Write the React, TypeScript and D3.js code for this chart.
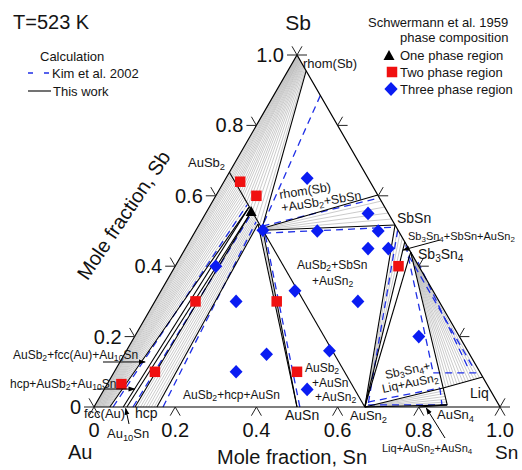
import React from 'react';
import * as d3 from 'd3';

type C = [number, number]; // [xSn, xSb]

// ---------- axis ticks ----------
const tickValues = [0, 0.2, 0.4, 0.6, 0.8, 1.0];
const tickLabels = ['0', '0.2', '0.4', '0.6', '0.8', '1.0'];

// ---------- phase compositions [xSn, xSb] ----------
const AU: C = [0, 0];
const SN: C = [1, 0];
const SB: C = [0, 1];
const AUSB2: C = [0, 0.667];
const AUSB2_N0: C = [0.16, 0.507];
const AUSB2_N1: C = [0.165, 0.502];
const AUSB2_FCC: C = [0.098, 0.567];
const AUSB2_HCP1: C = [0.11, 0.557];
const AUSB2_HCP2: C = [0.144, 0.52];
const RHOM_SB: C = [0.045, 0.955];
const SBSN_1: C = [0.398, 0.602];
const SBSN_2: C = [0.483, 0.517];
const SBSN_3: C = [0.531, 0.469];
const SB3SN4: C = [0.56, 0.44];
const LIQ_1: C = [0.833, 0.054];
const LIQ_2: C = [0.915, 0.085];
const LIQ_3: C = [0.867, 0.006];
const FCC_LIM: C = [0.039, 0];
const AU10SN_1: C = [0.072, 0];
const AU10SN_2: C = [0.081, 0];
const HCP_1: C = [0.101, 0];
const HCP_2: C = [0.155, 0];
const AUSN: C = [0.5, 0];
const AUSN2: C = [0.667, 0];
const AUSN4: C = [0.8, 0];

// ---------- this work: phase boundaries ----------
const thisWorkLines: [C, C][] = [
  [AUSB2, AUSB2_N1],
  [RHOM_SB, AUSB2_N0],
  [AUSB2_N0, SBSN_1],
  [AUSB2_N1, SBSN_2],
  [SBSN_2, AUSN2],
  [SBSN_3, AUSN2],
  [SB3SN4, AUSN2],
  [SB3SN4, LIQ_1],
  [LIQ_1, LIQ_2],
  [LIQ_1, LIQ_3],
  [AUSN2, LIQ_1],
  [AUSN2, LIQ_3],
  [AUSN4, LIQ_3],
  [AUSB2_N1, AUSN2],
  [AUSB2_N1, AUSN],
  [AUSB2_HCP2, AUSN],
  [HCP_2, AUSB2_HCP2],
  [HCP_1, AUSB2_HCP1],
  [AU10SN_2, AUSB2_HCP1],
  [AU10SN_1, AUSB2_FCC],
  [FCC_LIM, AUSB2_FCC],
];

// ---------- tie-line fans (fractions read along the two bounding segments) ----------
const upperFanFrac = [0.02, 0.045, 0.07, 0.095, 0.12, 0.15, 0.18, 0.21, 0.24, 0.27, 0.31, 0.35, 0.39, 0.43, 0.48, 0.53, 0.58, 0.64, 0.7, 0.77, 0.85, 0.93];
const fccFanFrac = [0.04, 0.08, 0.12, 0.16, 0.2, 0.25, 0.3, 0.35, 0.4, 0.45, 0.5, 0.55, 0.6, 0.66, 0.72, 0.78, 0.85, 0.92];
const hcpFanFrac = [0.12, 0.25, 0.37, 0.5, 0.62, 0.75, 0.88];
const sbsnFanFrac = [0.2, 0.4, 0.6, 0.8];
const sbsnAuSn2Frac = [0.25, 0.5, 0.75];
const liqFanFrac = [0.07, 0.14, 0.21, 0.28, 0.35, 0.42, 0.5, 0.57, 0.64, 0.71, 0.78, 0.85, 0.92];
const liqAuSn2Frac = [0.17, 0.33, 0.5, 0.67, 0.83];
const ausnFanFrac = [0.5];

// ---------- Kim et al. 2002 (blue dashed) ----------
const kimLines: [C, C][] = [
  [[0.047, 0], [0.09, 0.574]],
  [[0.096, 0], [0.113, 0.551]],
  [[0.17, 0], [0.136, 0.526]],
  [[0.507, 0], [0.172, 0.497]],
  [[0.115, 0.885], [0.158, 0.511]],
  [[0.158, 0.514], [0.406, 0.594]],
  [[0.172, 0.494], [0.487, 0.511]],
  [[0.497, 0.502], [0.672, 0.006]],
  [[0.538, 0.46], [0.787, 0.097]],
  [[0.787, 0.097], [0.897, 0.097]],
  [[0.56, 0.43], [0.885, 0.105]],
  [[0.592, 0.412], [0.866, 0.111]],
  [[0.668, 0.014], [0.825, 0.054]],
  [[0.825, 0.054], [0.854, 0.006]],
  [[0.672, 0.006], [0.867, 0.006]],
];

// ---------- Schwermann et al. 1959 samples ----------
const onePhasePts: C[] = [[0.11, 0.554]];
const twoPhasePts: C[] = [[0.04, 0.64], [0.1, 0.6], [0.1, 0.3], [0.1, 0.1], [0.035, 0.065], [0.3, 0.3], [0.45, 0.1], [0.55, 0.4]];
const threePhasePts: C[] = [[0.2, 0.65], [0.3, 0.5], [0.165, 0.502], [0.1, 0.4], [0.4, 0.55], [0.45, 0.5], [0.45, 0.45], [0.5, 0.45], [0.5, 0.3], [0.33, 0.33], [0.2, 0.3], [0.35, 0.15], [0.3, 0.1], [0.5, 0.16], [0.5, 0.05], [0.7, 0.2]];

const FONT = "'Liberation Sans', Arial, Helvetica, sans-serif";
const BLUE = '#1f2fe6';
const RED = '#f01010';
const DIAMOND = '#0a1cf2';

function Rich(props: { x: number; y: number; text: string; size: number; anchor?: string; rotate?: number; fill?: string }) {
  const { x, y, text, size, anchor = 'start', rotate = 0, fill = '#141414' } = props;
  const parts = text.split(/(\{[^}]*\})/).filter((s) => s.length > 0);
  const sh = size * 0.2;
  let down = false;
  const spans = parts.map((p, i) => {
    if (p.startsWith('{')) {
      const el = (
        <tspan key={i} fontSize={size * 0.72} dy={down ? 0 : sh}>
          {p.slice(1, -1)}
        </tspan>
      );
      down = true;
      return el;
    }
    const el = (
      <tspan key={i} dy={down ? -sh : 0}>
        {p}
      </tspan>
    );
    down = false;
    return el;
  });
  return (
    <text
      x={x}
      y={y}
      fontSize={size}
      fontFamily={FONT}
      fill={fill}
      textAnchor={anchor as any}
      transform={rotate ? `rotate(${rotate},${x},${y})` : undefined}
    >
      {spans}
    </text>
  );
}

export default function App() {
  const W = 522;
  const H = 470;
  const xs = d3.scaleLinear().domain([0, 1]).range([94, 500]);
  const ys = d3.scaleLinear().domain([0, 1]).range([407, 55]);
  const P = (c: C): [number, number] => [xs(c[0] + c[1] / 2), ys(c[1])];
  const line = d3.line();
  const seg = (a: C, b: C) => line([P(a), P(b)]) as string;
  const lerp = (a: C, b: C, t: number): C => [a[0] + (b[0] - a[0]) * t, a[1] + (b[1] - a[1]) * t];

  const fans: { a0: C; a1: C; b0: C; b1: C; fr: number[] }[] = [
    { a0: SB, a1: RHOM_SB, b0: AUSB2, b1: AUSB2_N0, fr: upperFanFrac },
    { a0: AU, a1: FCC_LIM, b0: AUSB2, b1: AUSB2_FCC, fr: fccFanFrac },
    { a0: HCP_1, a1: HCP_2, b0: AUSB2_HCP1, b1: AUSB2_HCP2, fr: hcpFanFrac },
    { a0: AUSB2_N0, a1: AUSB2_N1, b0: SBSN_1, b1: SBSN_2, fr: sbsnFanFrac },
    { a0: AUSN2, a1: AUSN2, b0: SBSN_2, b1: SBSN_3, fr: sbsnAuSn2Frac },
    { a0: SB3SN4, a1: SB3SN4, b0: LIQ_1, b1: LIQ_2, fr: liqFanFrac },
    { a0: AUSN2, a1: AUSN2, b0: LIQ_1, b1: LIQ_3, fr: liqAuSn2Frac },
    { a0: AUSN, a1: AUSN, b0: AUSB2_HCP2, b1: AUSB2_N1, fr: ausnFanFrac },
  ];
  const tieLines: [C, C][] = [];
  fans.forEach((f) => f.fr.forEach((t) => tieLines.push([lerp(f.a0, f.a1, t), lerp(f.b0, f.b1, t)])));

  const L = 10;
  const s60 = Math.sin(Math.PI / 3);
  const ticks: string[] = [];
  tickValues.forEach((t) => {
    const [bx, by] = P([t, 0]);
    ticks.push(line([[bx, by], [bx - L * 0.5, by + L * s60]]) as string);
    ticks.push(line([[bx, by], [bx + L * 0.5, by + L * s60]]) as string);
    const [lx, ly] = P([0, t]);
    ticks.push(line([[lx, ly], [lx - L, ly]]) as string);
    ticks.push(line([[lx, ly], [lx - L * 0.5, ly - L * s60]]) as string);
    const [rx, ry] = P([1 - t, t]);
    ticks.push(line([[rx, ry], [rx + L, ry]]) as string);
    ticks.push(line([[rx, ry], [rx + L * 0.5, ry - L * s60]]) as string);
  });

  const tri = line([P(AU), P(SN), P(SB), P(AU)]) as string;

  const square = (cx: number, cy: number, s: number, key: any) => (
    <rect key={key} x={cx - s / 2} y={cy - s / 2} width={s} height={s} fill={RED} />
  );
  const diamond = (cx: number, cy: number, r: number, key: any) => (
    <path key={key} d={`M${cx},${cy - r}L${cx + r * 0.95},${cy}L${cx},${cy + r}L${cx - r * 0.95},${cy}Z`} fill={DIAMOND} />
  );
  const triangle = (cx: number, cy: number, s: number, key: any) => (
    <path key={key} d={`M${cx},${cy - s * 0.6}L${cx + s * 0.55},${cy + s * 0.4}L${cx - s * 0.55},${cy + s * 0.4}Z`} fill="#000" />
  );

  // annotation arrows: tail (label layout, px) -> head (composition)
  const arrows: { tail: [number, number]; head: C }[] = [
    { tail: [103, 362], head: [0.062, 0.128] },
    { tail: [97, 389], head: [0.075, 0.051] },
    { tail: [129, 424], head: [0.08, -0.004] },
    { tail: [445, 438], head: [0.82, -0.003] },
    { tail: [440, 240], head: [0.538, 0.446] },
  ];

  return (
    <svg
      width={W}
      height={H}
      viewBox={`0 0 ${W} ${H}`}
      style={{ position: 'absolute', left: 0, top: 0, background: '#fff' }}
    >
      <defs>
        <marker id="ah" viewBox="0 0 10 10" refX="9" refY="5" markerWidth="7" markerHeight="7" orient="auto-start-reverse" markerUnits="userSpaceOnUse">
          <path d="M0,1.5L10,5L0,8.5Z" fill="#000" />
        </marker>
      </defs>
      <rect x={0} y={0} width={W} height={H} fill="#fff" />

      {/* tie lines */}
      <g stroke="#b4b4b4" strokeWidth={0.7} fill="none">
        {tieLines.map((tl, i) => (
          <path key={i} d={seg(tl[0], tl[1])} />
        ))}
      </g>

      {/* Kim et al. 2002 */}
      <g stroke={BLUE} strokeWidth={1.3} strokeDasharray="7,5" fill="none">
        {kimLines.map((kl, i) => (
          <path key={i} d={seg(kl[0], kl[1])} />
        ))}
      </g>

      {/* this work */}
      <g stroke="#000" strokeWidth={1.1} fill="none">
        {thisWorkLines.map((bl, i) => (
          <path key={i} d={seg(bl[0], bl[1])} />
        ))}
      </g>

      {/* frame and ticks */}
      <path d={tri} stroke="#000" strokeWidth={1.2} fill="none" />
      <g stroke="#222" strokeWidth={1} fill="none">
        {ticks.map((d, i) => (
          <path key={i} d={d} />
        ))}
      </g>

      {/* tick labels */}
      {tickValues.map((t, i) => {
        const [bx, by] = P([t, 0]);
        return (
          <text key={'b' + i} x={bx} y={by + 30} fontSize={20} fontFamily={FONT} textAnchor="middle" fill="#111">
            {tickLabels[i]}
          </text>
        );
      })}
      {tickValues.map((t, i) => {
        const [lx, ly] = P([0, t]);
        return (
          <text key={'l' + i} x={lx - 13} y={ly + 7} fontSize={20} fontFamily={FONT} textAnchor="end" fill="#111">
            {tickLabels[i]}
          </text>
        );
      })}

      {/* markers */}
      {onePhasePts.map((c, i) => {
        const [px, py] = P(c);
        return triangle(px, py, 10, 'o' + i);
      })}
      {twoPhasePts.map((c, i) => {
        const [px, py] = P(c);
        return square(px, py, 10.5, 't' + i);
      })}
      {threePhasePts.map((c, i) => {
        const [px, py] = P(c);
        return diamond(px, py, 6.8, 'd' + i);
      })}

      {/* arrows */}
      <g stroke="#000" strokeWidth={1} fill="none">
        {arrows.map((a, i) => {
          const h = P(a.head);
          return <path key={i} d={line([a.tail, h]) as string} markerEnd="url(#ah)" />;
        })}
      </g>

      {/* titles */}
      <Rich x={13} y={29} text="T=523 K" size={20} />
      <Rich x={298} y={30} text="Sb" size={21} anchor="middle" />
      <Rich x={68} y={459} text="Au" size={20} />
      <Rich x={495} y={459} text="Sn" size={19} />
      <Rich x={217} y={464} text="Mole fraction, Sn" size={20} />
      <text
        x={125}
        y={216}
        fontSize={20}
        fontFamily={FONT}
        fill="#111"
        textAnchor="middle"
        dominantBaseline="middle"
        transform="rotate(-56,125,216)"
      >
        Mole fraction, Sb
      </text>

      {/* left legend */}
      <Rich x={40} y={61} text="Calculation" size={13} />
      <line x1={28} y1={73} x2={50} y2={73} stroke={BLUE} strokeWidth={1.3} strokeDasharray="5,11" />
      <Rich x={52} y={78} text="Kim et al. 2002" size={13} />
      <line x1={28} y1={91} x2={51} y2={91} stroke="#000" strokeWidth={1.1} />
      <Rich x={53} y={96} text="This work" size={13} />

      {/* right legend */}
      <Rich x={368} y={27} text="Schwermann et al. 1959" size={13} />
      <Rich x={400} y={42} text="phase composition" size={13} />
      {triangle(389, 56, 10, 'lg1')}
      <Rich x={400} y={60} text="One phase region" size={13} />
      {square(392, 72, 10.5, 'lg2')}
      <Rich x={400} y={77} text="Two phase region" size={13} />
      {diamond(391, 89, 7, 'lg3')}
      <Rich x={400} y={94} text="Three phase region" size={13} />

      {/* phase labels */}
      <Rich x={303} y={68} text="rhom(Sb)" size={13} />
      <Rich x={188} y={167} text="AuSb{2}" size={13} />
      <Rich x={280} y={199} text="rhom(Sb)" size={12.5} rotate={-9} />
      <Rich x={282} y={212} text="+AuSb{2}+SbSn" size={12.5} rotate={-9} />
      <Rich x={297} y={269} text="AuSb{2}+SbSn" size={12} />
      <Rich x={312} y={285} text="+AuSn{2}" size={12} />
      <Rich x={397} y={223} text="SbSn" size={14} />
      <Rich x={408} y={240} text="Sb{3}Sn{4}+SbSn+AuSn{2}" size={11} />
      <Rich x={418} y={259} text="Sb{3}Sn{4}" size={14} />
      <Rich x={13} y={359} text="AuSb{2}+fcc(Au)+Au{10}Sn" size={12} />
      <Rich x={10} y={388} text="hcp+AuSb{2}+Au{10}Sn" size={12} />
      <Rich x={84} y={418} text="fcc(Au)" size={13} />
      <Rich x={135} y={418} text="hcp" size={14} />
      <Rich x={107} y={438} text="Au{10}Sn" size={13} />
      <Rich x={183} y={399} text="AuSb{2}+hcp+AuSn" size={12} />
      <Rich x={285} y={420} text="AuSn" size={14} />
      <Rich x={305} y={372} text="AuSb{2}" size={12} />
      <Rich x={312} y={387} text="+AuSn" size={12} />
      <Rich x={315} y={401} text="+AuSn{2}" size={12} />
      <Rich x={350} y={420} text="AuSn{2}" size={13} />
      <Rich x={437} y={419} text="AuSn{4}" size={13} />
      <Rich x={382} y={452} text="Liq+AuSn{2}+AuSn{4}" size={11} />
      <Rich x={386} y={379} text="Sb{3}Sn{4}+" size={12} rotate={-12} />
      <Rich x={383} y={393} text="Liq+AuSn{2}" size={12} rotate={-12} />
      <Rich x={470} y={398} text="Liq" size={14} />
    </svg>
  );
}
